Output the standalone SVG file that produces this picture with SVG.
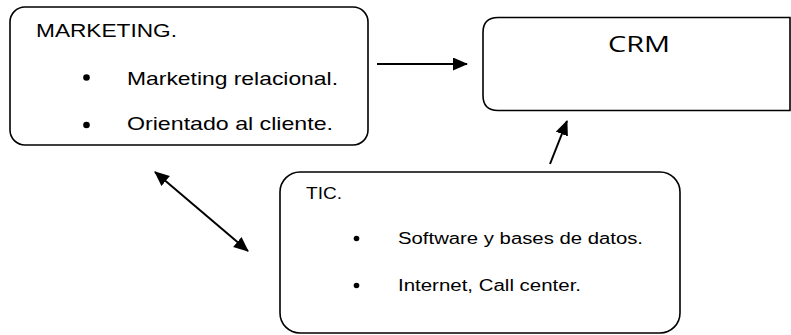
<svg xmlns="http://www.w3.org/2000/svg" width="791" height="335" viewBox="0 0 791 335">
<style>
.box{fill:#fff;stroke:#000;stroke-width:1.6}
.t{font-family:"Liberation Sans",Arial,sans-serif;fill:#000}
.m{font-size:18.6px}
.s{font-size:16px}
.crm{font-family:"Open Sans","Liberation Sans",sans-serif;font-size:21px;fill:#000}
.conn{stroke:#000;stroke-width:2;fill:none}
</style>
<defs>
<marker id="ah" markerUnits="userSpaceOnUse" markerWidth="16" markerHeight="14" refX="14" refY="6.5" orient="auto-start-reverse">
<path d="M0,0 L15,6.5 L0,13 z" fill="#000"/>
</marker>
</defs>
<g id="marketing">
<rect class="box" x="10" y="7" width="358" height="138" rx="15" ry="15"/>
<text class="t m" x="36" y="37" textLength="141" lengthAdjust="spacingAndGlyphs">MARKETING.</text>
<circle cx="86.5" cy="77.5" r="3.3"/>
<text class="t m" x="127" y="85" textLength="211" lengthAdjust="spacingAndGlyphs">Marketing relacional.</text>
<circle cx="86.5" cy="125" r="3.3"/>
<text class="t m" x="127" y="130" textLength="206" lengthAdjust="spacingAndGlyphs">Orientado al cliente.</text>
</g>
<g id="crm">
<path class="box" d="M498,17.5 H790 V110.5 H498 Q483,110.5 483,95.5 V32.5 Q483,17.5 498,17.5 Z"/>
<text class="crm" x="608" y="52" textLength="62" lengthAdjust="spacingAndGlyphs">CRM</text>
</g>
<g id="tic">
<rect class="box" x="280" y="172" width="400" height="161" rx="20" ry="20"/>
<text class="t s" x="306" y="199" textLength="36" lengthAdjust="spacingAndGlyphs">TIC.</text>
<circle cx="356.5" cy="238.5" r="2.8"/>
<text class="t s" x="398" y="244" textLength="245" lengthAdjust="spacingAndGlyphs">Software y bases de datos.</text>
<circle cx="356.5" cy="285.5" r="2.8"/>
<text class="t s" x="398" y="291" textLength="183" lengthAdjust="spacingAndGlyphs">Internet, Call center.</text>
</g>
<g id="connectors">
<line class="conn" x1="377" y1="64" x2="467" y2="64" marker-end="url(#ah)"/>
<line class="conn" x1="550" y1="164" x2="567" y2="121" marker-end="url(#ah)"/>
<line class="conn" x1="155" y1="172" x2="248" y2="251" marker-start="url(#ah)" marker-end="url(#ah)"/>
</g>
</svg>
